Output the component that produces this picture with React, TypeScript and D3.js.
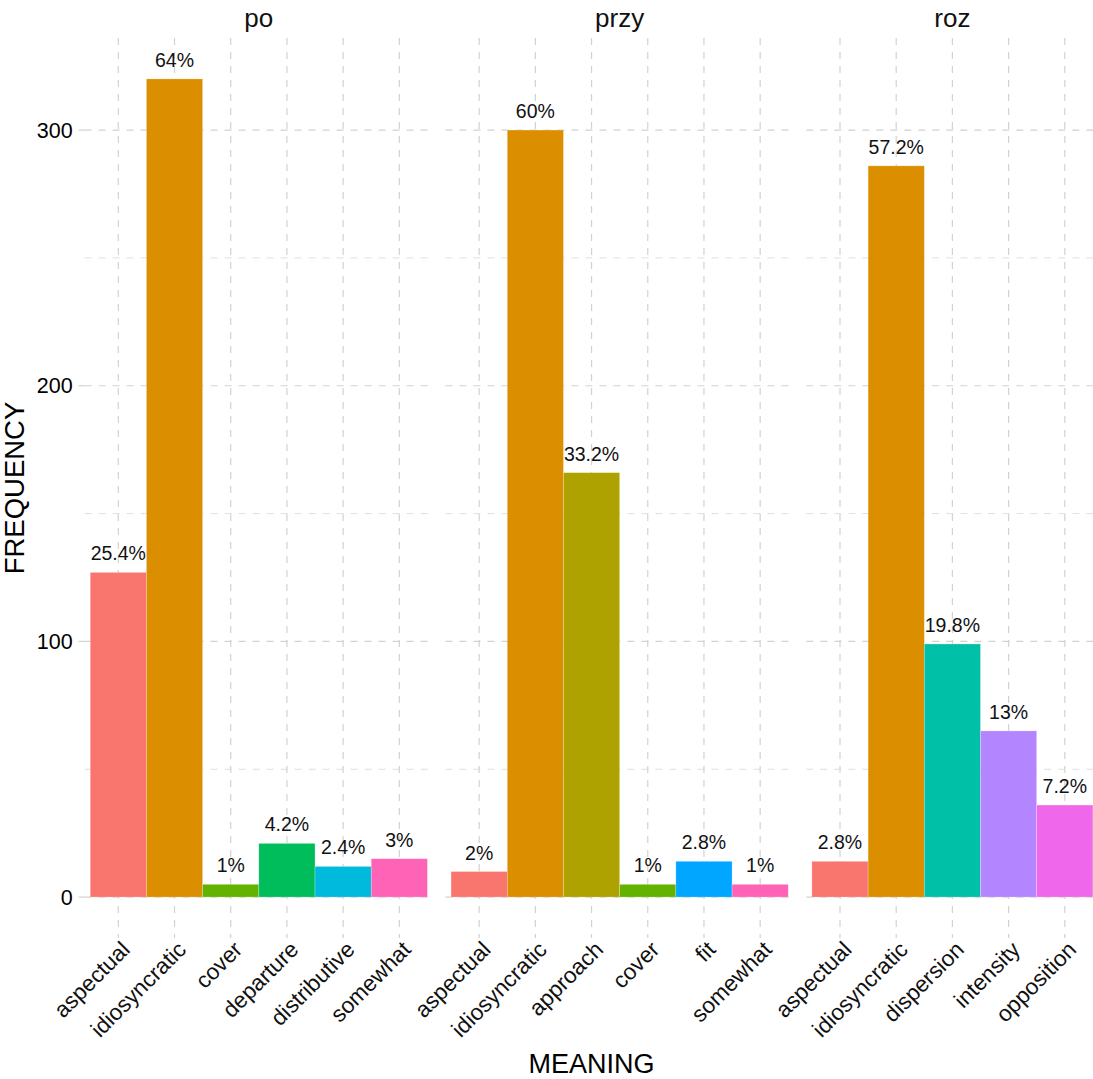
import React from "react";
import * as d3 from "d3";

const facets = ["po", "przy", "roz"];
const poCats = ["aspectual", "idiosyncratic", "cover", "departure", "distributive", "somewhat"];
const poVals = [127, 320, 5, 21, 12, 15];
const przyCats = ["aspectual", "idiosyncratic", "approach", "cover", "fit", "somewhat"];
const przyVals = [10, 300, 166, 5, 14, 5];
const rozCats = ["aspectual", "idiosyncratic", "dispersion", "intensity", "opposition"];
const rozVals = [14, 286, 99, 65, 36];
const yTicks = [0, 100, 200, 300];
const yMinor = [50, 150, 250];

const allMeanings = ["aspectual", "idiosyncratic", "approach", "cover", "departure", "dispersion", "distributive", "fit", "intensity", "opposition", "somewhat"];
const hueColors = ["#F8766D", "#DB8E00", "#AEA200", "#64B200", "#00BD5C", "#00C1A7", "#00BADE", "#00A6FF", "#B385FF", "#EF67EB", "#FF63B6"];

const W = 1093, H = 1079;
const FONT = "'Liberation Sans', Arial, Helvetica, sans-serif";

export default function App() {
  const color = d3.scaleOrdinal<string, string>().domain(allMeanings).range(hueColors);
  const y = d3.scaleLinear().domain([-16, 336]).range([938, 38]);
  const unit = 56.2;
  const gap = 12.4;
  const data = [
    { name: facets[0], cats: poCats, vals: poVals },
    { name: facets[1], cats: przyCats, vals: przyVals },
    { name: facets[2], cats: rozCats, vals: rozVals },
  ];
  let left = 84.6;
  const panels = data.map((d) => {
    const w = (d.cats.length + 0.2) * unit;
    const x = d3.scaleBand<string>().domain(d.cats).range([left, left + w]).paddingInner(0).paddingOuter(0.1);
    const p = { ...d, left, w, x, total: d3.sum(d.vals) };
    left += w + gap;
    return p;
  });
  const gridColor = "#d2d2d2";
  const dash = "7,7";
  const [y0, y1] = y.range();
  return (
    <svg width={W} height={H} style={{ position: "absolute", left: 0, top: 0, background: "#fff" }} fontFamily={FONT}>
      {panels.map((p, i) => (
        <g key={p.name}>
          {yMinor.map((t) => (
            <line key={"m" + t} x1={p.left} x2={p.left + p.w} y1={y(t)} y2={y(t)} stroke={gridColor} strokeWidth={0.7} strokeDasharray={dash} />
          ))}
          {yTicks.map((t) => (
            <line key={"M" + t} x1={p.left} x2={p.left + p.w} y1={y(t)} y2={y(t)} stroke={gridColor} strokeWidth={1.2} strokeDasharray={dash} />
          ))}
          {p.cats.map((c) => (
            <line key={"v" + c} x1={p.x(c)! + p.x.bandwidth() / 2} x2={p.x(c)! + p.x.bandwidth() / 2} y1={y1} y2={y0} stroke={gridColor} strokeWidth={1.2} strokeDasharray={dash} />
          ))}
          {i === 0 && yTicks.map((t) => (
            <g key={"t" + t}>
              <line x1={p.left - 6} x2={p.left} y1={y(t)} y2={y(t)} stroke={gridColor} strokeWidth={1.2} />
              <text x={p.left - 12} y={y(t)} dy="0.35em" textAnchor="end" fontSize={21.5} fill="#000">{t}</text>
            </g>
          ))}
          {p.cats.map((c, j) => (
            <rect key={"b" + c} x={p.x(c)} y={y(p.vals[j])} width={p.x.bandwidth()} height={y(0) - y(p.vals[j])} fill={color(c)} stroke="#ffffff" strokeOpacity={0.4} strokeWidth={0.6} />
          ))}
          {p.cats.map((c, j) => (
            <text key={"l" + c} x={p.x(c)! + p.x.bandwidth() / 2} y={y(p.vals[j]) - 12} textAnchor="middle" fontSize={19.5} fill="#111">
              {`${Math.round((p.vals[j] / p.total) * 1000) / 10}%`}
            </text>
          ))}
          {p.cats.map((c) => {
            const cx = p.x(c)! + p.x.bandwidth() / 2;
            return (
              <text key={"x" + c} transform={`translate(${cx + 1},${y0 + 1}) rotate(-45)`} textAnchor="end" dy="0.75em" fontSize={22.5} fill="#111">
                {c}
              </text>
            );
          })}
          <text x={p.left + p.w / 2} y={27} textAnchor="middle" fontSize={26} fill="#111">{p.name}</text>
        </g>
      ))}
      <text transform={`translate(${24},${(y0 + y1) / 2}) rotate(-90)`} textAnchor="middle" fontSize={27.5} fill="#000">FREQUENCY</text>
      <text x={(84.6 + left - gap) / 2} y={1073} textAnchor="middle" fontSize={27} fill="#000">MEANING</text>
    </svg>
  );
}
